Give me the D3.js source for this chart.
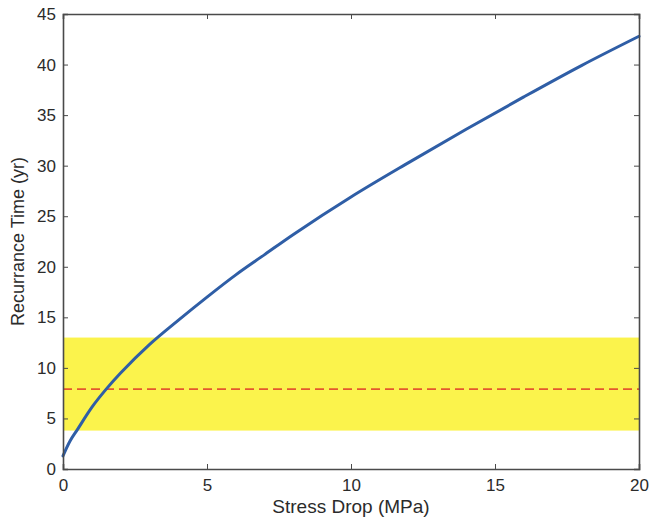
<!DOCTYPE html>
<html>
<head>
<meta charset="utf-8">
<script src="https://cdn.jsdelivr.net/npm/d3@7"></script>
<style>
  html, body { margin: 0; padding: 0; background: #ffffff; }
  svg { display: block; }
  text { font-family: "Liberation Sans", Arial, Helvetica, sans-serif; fill: #2b2b2b; }
</style>
</head>
<body>
<svg id="chart" width="651" height="519"></svg>
<script>
// Recurrence time as a function of stress drop
const stressDrop = [0, 0.25, 0.5, 1, 1.5, 2, 3, 4, 5, 6, 7, 8, 10, 12, 14, 16, 18, 20];
const recurrenceTime = [1.3, 2.8, 3.9, 6.1, 7.9, 9.5, 12.3, 14.7, 17.0, 19.2, 21.2, 23.2, 26.9, 30.3, 33.6, 36.8, 39.9, 42.8];

// Observed range (shaded) and mean (dashed)
const observedRange = [3.8, 13];
const observedMean = 7.9;

const xTicks = [0, 5, 10, 15, 20];
const yTicks = [0, 5, 10, 15, 20, 25, 30, 35, 40, 45];

const xLabel = "Stress Drop (MPa)";
const yLabel = "Recurrance Time (yr)";

const margin = { left: 63, right: 12, top: 14, bottom: 50 };
const width = 651, height = 519;
const svg = d3.select("#chart");

const x = d3.scaleLinear().domain([0, 20]).range([margin.left, width - margin.right]);
const y = d3.scaleLinear().domain([0, 45]).range([height - margin.bottom, margin.top]);

// shaded band
svg.append("rect")
  .attr("x", x(0))
  .attr("width", x(20) - x(0))
  .attr("y", y(observedRange[1]))
  .attr("height", y(observedRange[0]) - y(observedRange[1]))
  .attr("fill", "#fbf34c");

// dashed mean line
svg.append("line")
  .attr("x1", x(0)).attr("x2", x(20))
  .attr("y1", y(observedMean)).attr("y2", y(observedMean))
  .attr("stroke", "#e4572e")
  .attr("stroke-width", 1.6)
  .attr("stroke-dasharray", "9,5");

// curve
const line = d3.line()
  .x((d, i) => x(stressDrop[i]))
  .y(d => y(d))
  .curve(d3.curveCatmullRom);

svg.append("path")
  .datum(recurrenceTime)
  .attr("d", line)
  .attr("fill", "none")
  .attr("stroke", "#2f5ea6")
  .attr("stroke-width", 3)
  .attr("stroke-linecap", "round");

// axes (ticks pointing inward, box on all four sides)
const tickLen = 5;
const axisColor = "#4a4a4a";

const bottomAxis = d3.axisBottom(x).tickValues(xTicks).tickSize(-tickLen).tickPadding(10).tickFormat(d3.format("d"));
const topAxis = d3.axisTop(x).tickValues(xTicks).tickSize(-tickLen).tickFormat("");
const leftAxis = d3.axisLeft(y).tickValues(yTicks).tickSize(-tickLen).tickPadding(7).tickFormat(d3.format("d"));
const rightAxis = d3.axisRight(y).tickValues(yTicks).tickSize(-tickLen).tickFormat("");

function styleAxis(g) {
  g.select(".domain").attr("stroke", axisColor).attr("stroke-width", 1.6);
  g.selectAll(".tick line").attr("stroke", axisColor).attr("stroke-width", 1);
  g.selectAll(".tick text")
    .attr("font-size", 17)
    .attr("fill", "#2b2b2b")
    .style("font-family", "'Liberation Sans', Arial, Helvetica, sans-serif");
}

svg.append("g").attr("transform", `translate(0,${y(0)})`).call(bottomAxis).call(styleAxis);
svg.append("g").attr("transform", `translate(0,${y(45)})`).call(topAxis).call(styleAxis);
svg.append("g").attr("transform", `translate(${x(0)},0)`).call(leftAxis).call(styleAxis);
svg.append("g").attr("transform", `translate(${x(20)},0)`).call(rightAxis).call(styleAxis);

// axis labels
svg.append("text")
  .attr("x", (x(0) + x(20)) / 2)
  .attr("y", 513)
  .attr("text-anchor", "middle")
  .attr("font-size", 19)
  .text(xLabel);

svg.append("text")
  .attr("transform", `translate(24,${(y(0) + y(45)) / 2}) rotate(-90)`)
  .attr("text-anchor", "middle")
  .attr("font-size", 18)
  .text(yLabel);
</script>
</body>
</html>
